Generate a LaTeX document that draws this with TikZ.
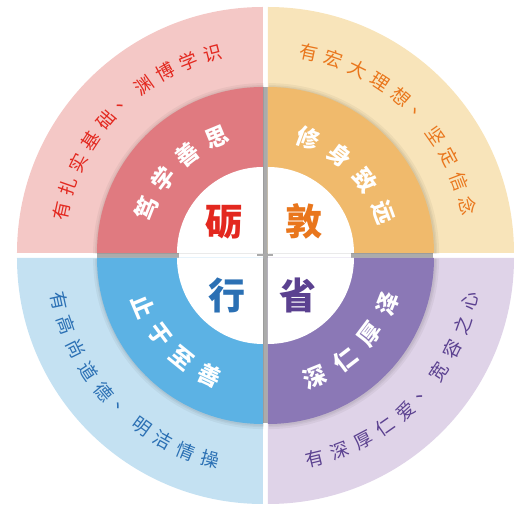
\documentclass[tikz,border=0pt]{standalone}
\usepackage{fontspec}
\usepackage{tikz}
\newfontfamily\cjk{Noto Sans CJK SC}
\definecolor{pinkOut}{HTML}{F4C8C6}
\definecolor{pinkMid}{HTML}{E07A80}
\definecolor{redTxt}{HTML}{E3281F}
\definecolor{sandOut}{HTML}{F8E4BA}
\definecolor{sandMid}{HTML}{F0BA6C}
\definecolor{orangeTxt}{HTML}{E9761C}
\definecolor{skyOut}{HTML}{C4E1F2}
\definecolor{skyMid}{HTML}{5CB2E4}
\definecolor{blueTxt}{HTML}{2B70B4}
\definecolor{lilacOut}{HTML}{DFD3E8}
\definecolor{lilacMid}{HTML}{8B78B6}
\definecolor{purpleTxt}{HTML}{5B4190}

\begin{document}
\begin{tikzpicture}[
    x=1pt, y=1pt,
    halo/.style={fill=black, opacity=0.045},
    gapshade/.style={fill=black!33},
    outtxt/.style={font=\cjk\fontsize{18.5}{18.5}\selectfont, inner sep=0pt},
    midtxt/.style={font=\cjk\bfseries\fontsize{23}{23}\selectfont, text=white, inner sep=0pt},
    hubtxt/.style={font=\cjk\bfseries\fontsize{37}{37}\selectfont, inner sep=0pt}
]
    \useasboundingbox (-265.5pt,-266.5pt) rectangle (265.5pt,255.5pt);

    % grey seams seen through the gaps of the middle ring and hub
    \fill[gapshade] (-2.5pt,-168pt) rectangle (2.5pt,168pt);
    \fill[gapshade] (-168pt,-2.5pt) rectangle (-86pt,2.5pt);
    \fill[gapshade] (86pt,-2.5pt) rectangle (168pt,2.5pt);
    \fill[gapshade] (-8pt,-1pt) rectangle (8pt,1pt);

    % quadrants: outer ring, soft halo, middle ring, white hub
    \foreach \a/\dx/\dy/\co/\cm in {90/-2.5/2.5/pinkOut/pinkMid, 0/2.5/2.5/sandOut/sandMid, 180/-2.5/-2.5/skyOut/skyMid, 270/2.5/-2.5/lilacOut/lilacMid} {
        \begin{scope}[shift={(\dx,\dy)}]
            \fill[\co] (0,0) -- (\a:246pt) arc[start angle=\a, delta angle=90, radius=246pt] -- cycle;
            \foreach \r in {170.5,168.5,167.2}
                \fill[halo, shift={(0.6,-0.6)}] (0,0) -- (\a:\r pt) arc[start angle=\a, delta angle=90, radius=\r pt] -- cycle;
            \fill[\cm] (0,0) -- (\a:166pt) arc[start angle=\a, delta angle=90, radius=166pt] -- cycle;
            \fill[white] (0,0) -- (\a:86pt) arc[start angle=\a, delta angle=90, radius=86pt] -- cycle;
        \end{scope}
    }

    % outer ring texts
    \foreach \ch [count=\i from 0] in {有,扎,实,基,础,、,渊,博,学,识}
        \node[outtxt, text=redTxt, rotate={167.7-7.0*\i-90}] (tl-o-\i) at ({167.7-7.0*\i}:209pt) {\ch};
    \foreach \ch [count=\i from 0] in {有,宏,大,理,想,、,坚,定,信,念}
        \node[outtxt, text=orangeTxt, rotate={78-7.14*\i-90}] (tr-o-\i) at ({78-7.14*\i}:208pt) {\ch};
    \foreach \ch [count=\i from 0] in {有,高,尚,道,德,、,明,洁,情,操}
        \node[outtxt, text=blueTxt, rotate={192.4+6.94*\i+90}] (bl-o-\i) at ({192.4+6.94*\i}:211pt) {\ch};
    \foreach \ch [count=\i from 0] in {有,深,厚,仁,爱,、,宽,容,之,心}
        \node[outtxt, text=purpleTxt, rotate={283.7+7.09*\i+90}] (br-o-\i) at ({283.7+7.09*\i}:209pt) {\ch};

    % middle ring texts
    \foreach \ch [count=\i from 0] in {笃,学,善,思}
        \node[midtxt, rotate={158.4-15.3*\i-90}] (tl-m-\i) at ({158.4-15.3*\i}:128pt) {\ch};
    \foreach \ch [count=\i from 0] in {修,身,致,远}
        \node[midtxt, rotate={69.8-16.6*\i-90}] (tr-m-\i) at ({69.8-16.6*\i}:125pt) {\ch};
    \foreach \ch [count=\i from 0] in {止,于,至,善}
        \node[midtxt, rotate={202.7+14.1*\i+90}] (bl-m-\i) at ({202.7+14.1*\i}:132pt) {\ch};
    \foreach \ch [count=\i from 0] in {深,仁,厚,泽}
        \node[midtxt, rotate={292+15.5*\i+90}] (br-m-\i) at ({292+15.5*\i}:131pt) {\ch};

    % hub characters
    \node[hubtxt, text=redTxt] (hub-li) at (-41pt,33pt) {砺};
    \node[hubtxt, text=orangeTxt] (hub-dun) at (38.5pt,34pt) {敦};
    \node[hubtxt, text=blueTxt] (hub-xing) at (-38pt,-40pt) {行};
    \node[hubtxt, text=purpleTxt] (hub-sheng) at (33pt,-39.5pt) {省};
\end{tikzpicture}
\end{document}
